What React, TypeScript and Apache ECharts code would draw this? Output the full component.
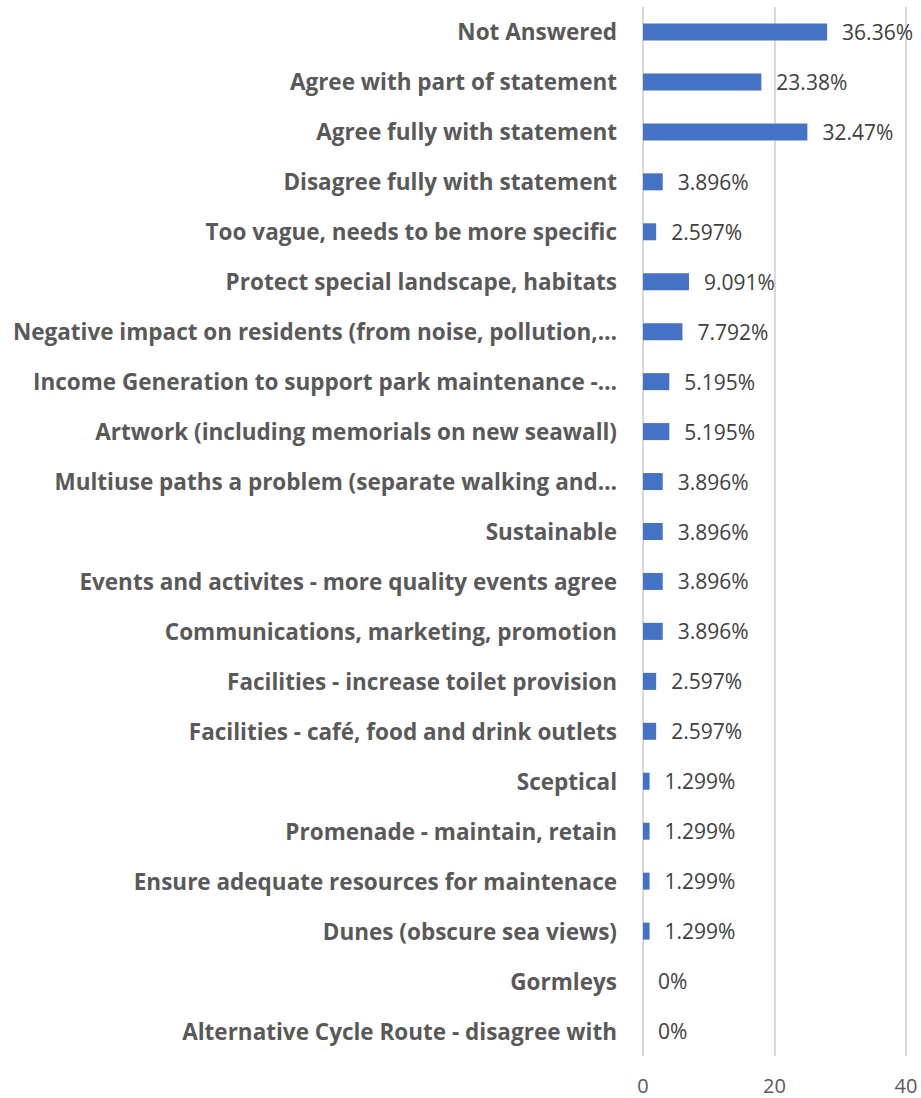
import React, { useEffect, useRef } from "react";
import * as echarts from "echarts";

const categories: string[] = [
  "Not Answered",
  "Agree with part of statement",
  "Agree fully with statement",
  "Disagree fully with statement",
  "Too vague, needs to be more specific",
  "Protect special landscape, habitats",
  "Negative impact on residents (from noise, pollution,…",
  "Income Generation to support park maintenance -…",
  "Artwork (including memorials on new seawall)",
  "Multiuse paths a problem (separate walking and…",
  "Sustainable",
  "Events and activites - more quality events agree",
  "Communications, marketing, promotion",
  "Facilities - increase toilet provision",
  "Facilities - café, food and drink outlets",
  "Sceptical",
  "Promenade - maintain, retain",
  "Ensure adequate resources for maintenace",
  "Dunes (obscure sea views)",
  "Gormleys",
  "Alternative Cycle Route - disagree with",
];

const counts: number[] = [28, 18, 25, 3, 2, 7, 6, 4, 4, 3, 3, 3, 3, 2, 2, 1, 1, 1, 1, 0, 0];

const percentLabels: string[] = [
  "36.36%", "23.38%", "32.47%", "3.896%", "2.597%", "9.091%", "7.792%",
  "5.195%", "5.195%", "3.896%", "3.896%", "3.896%", "3.896%", "2.597%",
  "2.597%", "1.299%", "1.299%", "1.299%", "1.299%", "0%", "0%",
];

const xTicks = { min: 0, max: 40, interval: 20 };

export default function App() {
  const ref = useRef<HTMLDivElement>(null);
  useEffect(() => {
    if (!ref.current) return;
    const chart = echarts.init(ref.current, undefined, { renderer: "svg" });
    chart.setOption({
      animation: false,
      backgroundColor: "#ffffff",
      grid: { left: 643, right: 15, top: 7, bottom: 42, containLabel: false },
      xAxis: {
        type: "value",
        min: xTicks.min,
        max: xTicks.max,
        interval: xTicks.interval,
        axisLine: { show: false },
        axisTick: { show: false },
        splitLine: { show: true, lineStyle: { color: "#d9d9d9", width: 2 } },
        axisLabel: {
          color: "#595959",
          fontFamily: "Open Sans",
          fontSize: 20,
          margin: 19,
        },
      },
      yAxis: {
        type: "category",
        data: categories,
        inverse: true,
        axisLine: { show: false },
        axisTick: { show: false },
        splitLine: { show: false },
        axisLabel: {
          color: "#595959",
          fontFamily: "Open Sans",
          fontWeight: "bold",
          fontSize: 22.5,
          margin: 26,
        },
      },
      series: [
        {
          type: "bar",
          data: counts,
          barWidth: 17,
          itemStyle: { color: "#4472C4" },
          label: {
            show: true,
            position: "right",
            distance: 15,
            color: "#404040",
            fontFamily: "Open Sans",
            fontSize: 21,
            formatter: (p: any) => percentLabels[p.dataIndex],
          },
        },
      ],
    });
    return () => chart.dispose();
  }, []);
  return (
    <div
      ref={ref}
      style={{ position: "absolute", left: 0, top: 0, width: 921, height: 1098 }}
    />
  );
}
